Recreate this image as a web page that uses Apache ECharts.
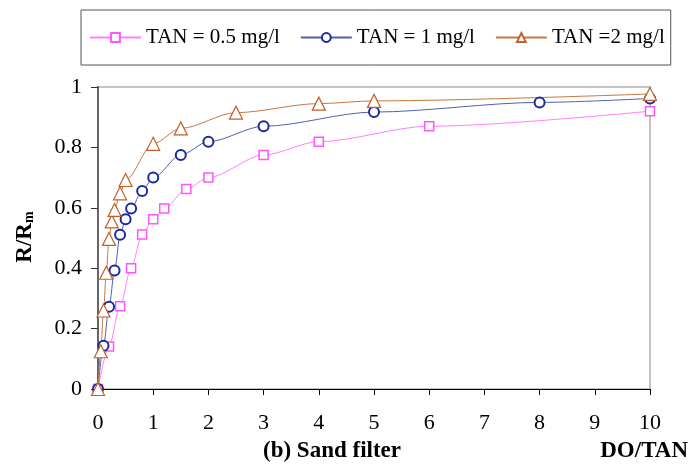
<!DOCTYPE html>
<html>
<head>
<meta charset="utf-8">
<script src="https://cdn.jsdelivr.net/npm/echarts@6/dist/echarts.min.js"></script>
<style>
  html, body { margin: 0; padding: 0; background: #fff; }
  #chart { width: 692px; height: 472px; }
</style>
</head>
<body>
<div id="chart"></div>
<script>
// values (x = DO/TAN, y = R/Rm)
const tan05X = [0, 0.2, 0.4, 0.6, 0.8, 1, 1.2, 1.6, 2, 3, 4, 6, 10]
const tan05Y = [0, 0.141, 0.274, 0.4, 0.512, 0.562, 0.598, 0.662, 0.7, 0.775, 0.819, 0.87, 0.92]

const tan1X = [0, 0.1, 0.2, 0.3, 0.4, 0.5, 0.6, 0.8, 1, 1.5, 2, 3, 5, 8, 10]
const tan1Y = [0, 0.143, 0.272, 0.392, 0.511, 0.562, 0.598, 0.656, 0.7, 0.775, 0.819, 0.87, 0.917, 0.949, 0.962]

const tan2X = [0, 0.05, 0.1, 0.15, 0.2, 0.25, 0.3, 0.4, 0.5, 1, 1.5, 2.5, 4, 5, 10]
const tan2Y = [0, 0.125, 0.26, 0.385, 0.497, 0.555, 0.593, 0.648, 0.692, 0.812, 0.863, 0.915, 0.945, 0.954, 0.977]

const seriesNames = ['TAN = 0.5 mg/l', 'TAN = 1 mg/l', 'TAN =2 mg/l']

const font = '"Liberation Serif", "Times New Roman", serif'

const zip = (xs, ys) => xs.map((x, i) => [x, ys[i]])

const makeSeries = (name, data, symbol, size, markColor, lineColor, borderWidth) => ({
  name,
  type: 'line',
  data,
  smooth: 0.3,
  smoothMonotone: 'x',
  symbol,
  symbolSize: size,
  showAllSymbol: true,
  clip: false,
  lineStyle: { color: lineColor, width: 1 },
  itemStyle: { color: '#fff', borderColor: markColor, borderWidth },
  emphasis: { disabled: true },
})

const chart = echarts.init(document.getElementById('chart'))

chart.setOption({
  animation: false,
  backgroundColor: '#fff',
  grid: {
    left: 98, right: 42, top: 87, bottom: 83,
    show: true, borderColor: '#c4c4c4', borderWidth: 2,
  },
  legend: {
    left: 81, top: 10,
    padding: [17, 6, 17, 8],
    itemWidth: 51, itemHeight: 11, itemGap: 20,
    borderColor: '#555', borderWidth: 1,
    textStyle: { color: '#000', fontFamily: font, fontSize: 21 },
    data: seriesNames,
  },
  xAxis: {
    type: 'value', min: 0, max: 10, interval: 1,
    splitLine: { show: false },
    axisLine: { lineStyle: { color: '#000', width: 1 } },
    axisTick: { show: true, length: 6, lineStyle: { color: '#000' } },
    axisLabel: { color: '#000', fontFamily: font, fontSize: 22, margin: 23 },
  },
  yAxis: {
    type: 'value', min: 0, max: 1, interval: 0.2,
    splitLine: { show: false },
    axisLine: { show: true, lineStyle: { color: '#666', width: 2 } },
    axisTick: { show: true, length: 7, lineStyle: { color: '#333' } },
    axisLabel: { color: '#000', fontFamily: font, fontSize: 22, margin: 16 },
  },
  graphic: [
    {
      type: 'text', left: 263, top: 440,
      style: { text: '(b) Sand filter', fill: '#000', font: 'bold 23px ' + font },
    },
    {
      type: 'text', right: 4, top: 440,
      style: { text: 'DO/TAN', fill: '#000', font: 'bold 23px ' + font },
    },
    {
      type: 'text', x: 25, y: 237, rotation: Math.PI / 2,
      style: {
        text: '{a|R/R}{s|m}',
        align: 'center', verticalAlign: 'middle',
        rich: {
          a: { fill: '#000', fontFamily: font, fontWeight: 'bold', fontSize: 23 },
          s: { fill: '#000', fontFamily: font, fontWeight: 'bold', fontSize: 14, padding: [8, 0, 0, 0] },
        },
      },
    },
  ],
  series: [
    makeSeries(seriesNames[0], zip(tan05X, tan05Y), 'rect', 9, '#ff55ff', '#ff80ff', 1.5),
    makeSeries(seriesNames[1], zip(tan1X, tan1Y), 'circle', 10, '#1a2a9c', '#5060b0', 2),
    makeSeries(seriesNames[2], zip(tan2X, tan2Y), 'triangle', 13, '#c0602a', '#c87840', 1.2),
  ],
})
</script>
</body>
</html>
